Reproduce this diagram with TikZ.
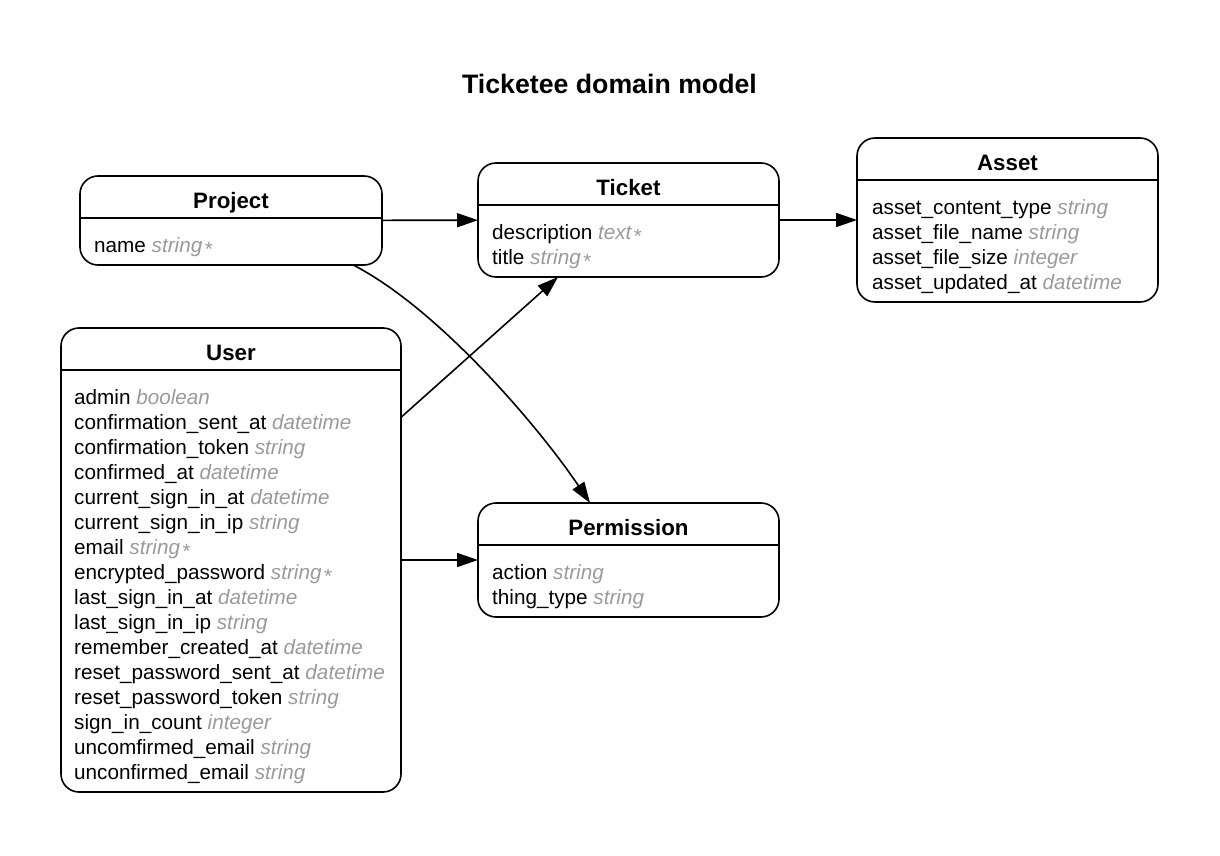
\documentclass[tikz,border=0pt]{standalone}
\usepackage{fontspec}
\setmainfont{Liberation Sans}
\usetikzlibrary{arrows.meta,calc}
\definecolor{typegray}{HTML}{9A9A9A}
\newcommand\attrtype[1]{{\color{typegray}\itshape #1}}
\newcommand\reqmark{\hspace{2.5pt}{\color{typegray}\raisebox{-4.5pt}{*}}}
\tikzset{
  entity/.style={draw, line width=1.6pt, rounded corners=18pt, inner sep=0pt, outer sep=0pt},
  hdr/.style={font=\fontsize{22.3pt}{26pt}\selectfont\bfseries, inner sep=0pt, anchor=base},
  attrs/.style={font=\fontsize{20.7pt}{25pt}\selectfont, align=left, inner sep=0pt, anchor=north west},
  sepline/.style={line width=1.6pt},
  arr/.style={line width=1.6pt, -{Triangle[length=21pt,width=14pt]}},
  titlestyle/.style={font=\fontsize{26.7pt}{30pt}\selectfont\bfseries, inner sep=0pt, anchor=base}
}
\newcommand\firstline{\rule{0pt}{18pt}}
\begin{document}
\begin{tikzpicture}[x=1pt,y=-1pt]
\useasboundingbox (0,0) rectangle (1220,856);
\node[titlestyle] (title) at (609.5,94) {Ticketee domain model};

% Project
\node[entity, minimum width=302pt, minimum height=89pt] (project) at (231,220.5) {};
\node[hdr] (project-h) at ($(project.north)+(0,32)$) {Project};
\draw[sepline] ($(project.north west)+(0,42)$) -- ($(project.north east)+(0,42)$);
\node[attrs] (project-a) at ($(project.north west)+(14,58)$) {\firstline name \attrtype{string}\reqmark};

% Ticket
\node[entity, minimum width=301pt, minimum height=114pt] (ticket) at (628.5,220) {};
\node[hdr] (ticket-h) at ($(ticket.north)+(0,32)$) {Ticket};
\draw[sepline] ($(ticket.north west)+(0,42)$) -- ($(ticket.north east)+(0,42)$);
\node[attrs] (ticket-a) at ($(ticket.north west)+(14,58)$) {\firstline description \attrtype{text}\reqmark\\title \attrtype{string}\reqmark};

% Asset
\node[entity, minimum width=301pt, minimum height=164pt] (asset) at (1007.5,220) {};
\node[hdr] (asset-h) at ($(asset.north)+(0,32)$) {Asset};
\draw[sepline] ($(asset.north west)+(0,42)$) -- ($(asset.north east)+(0,42)$);
\node[attrs] (asset-a) at ($(asset.north west)+(15,58)$) {\firstline asset\_content\_type \attrtype{string}\\asset\_file\_name \attrtype{string}\\asset\_file\_size \attrtype{integer}\\asset\_updated\_at \attrtype{datetime}};

% Permission
\node[entity, minimum width=301pt, minimum height=114pt] (permission) at (628.5,560) {};
\node[hdr] (permission-h) at ($(permission.north)+(0,32)$) {Permission};
\draw[sepline] ($(permission.north west)+(0,42)$) -- ($(permission.north east)+(0,42)$);
\node[attrs] (permission-a) at ($(permission.north west)+(14,58)$) {\firstline action \attrtype{string}\\thing\_type \attrtype{string}};

% User
\node[entity, minimum width=340pt, minimum height=464pt] (user) at (231,560) {};
\node[hdr] (user-h) at ($(user.north)+(0,32)$) {User};
\draw[sepline] ($(user.north west)+(0,42)$) -- ($(user.north east)+(0,42)$);
\node[attrs] (user-a) at ($(user.north west)+(13,58)$) {\firstline admin \attrtype{boolean}\\
confirmation\_sent\_at \attrtype{datetime}\\
confirmation\_token \attrtype{string}\\
confirmed\_at \attrtype{datetime}\\
current\_sign\_in\_at \attrtype{datetime}\\
current\_sign\_in\_ip \attrtype{string}\\
email \attrtype{string}\reqmark\\
encrypted\_password \attrtype{string}\reqmark\\
last\_sign\_in\_at \attrtype{datetime}\\
last\_sign\_in\_ip \attrtype{string}\\
remember\_created\_at \attrtype{datetime}\\
reset\_password\_sent\_at \attrtype{datetime}\\
reset\_password\_token \attrtype{string}\\
sign\_in\_count \attrtype{integer}\\
uncomfirmed\_email \attrtype{string}\\
unconfirmed\_email \attrtype{string}};

% Connectors
\draw[arr] (project) -- (ticket);
\draw[arr] (ticket) -- (asset);
\draw[arr] (user) -- (permission);
\draw[arr] (user.40.65) -- (ticket.219.8);
\draw[arr] (project.-20) .. controls +(87,45) and +(-49,-73) .. (permission.124.7);
\end{tikzpicture}
\end{document}
